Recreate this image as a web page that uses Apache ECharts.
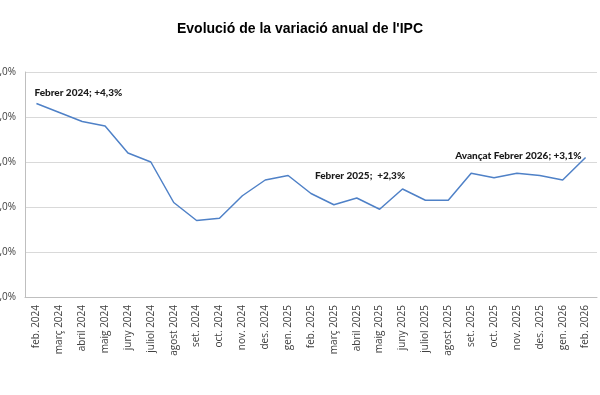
<!DOCTYPE html>
<html><head><meta charset="utf-8">
<script src="https://cdn.jsdelivr.net/npm/echarts@6/dist/echarts.min.js"></script>
<style>html,body{margin:0;padding:0;background:#fff}#c{width:600px;height:395px}</style>
</head><body><div id="c"></div>
<script>
const categories = ["feb. 2024","març 2024","abril 2024","maig 2024","juny 2024","juliol 2024","agost 2024","set. 2024","oct. 2024","nov. 2024","des. 2024","gen. 2025","feb. 2025","març 2025","abril 2025","maig 2025","juny 2025","juliol 2025","agost 2025","set. 2025","oct. 2025","nov. 2025","des. 2025","gen. 2026","feb. 2026"];
const ipcValues = [4.3,4.1,3.9,3.8,3.2,3.0,2.1,1.7,1.75,2.25,2.6,2.7,2.3,2.05,2.2,1.95,2.4,2.15,2.15,2.75,2.65,2.75,2.7,2.6,3.1];
const annotationIndex = [0, 12, 24];
const annotationText = ["Febrer 2024; +4,3%", "Febrer 2025;  +2,3%", "Avançat Febrer 2026; +3,1%"];

const labelStyles = [
  {position:'top', align:'left', offset:[-2,-1]},
  {position:'top', align:'left', offset:[4,-8]},
  {position:'top', align:'right', offset:[-4,8]}
];
const seriesData = ipcValues.map((v,i)=>{
  const k = annotationIndex.indexOf(i);
  if (k < 0) return v;
  return {value:v, label:Object.assign({show:true, formatter:annotationText[k], fontFamily:'Lato', fontWeight:900, fontSize:10, color:'#1a1a1a', distance:4}, labelStyles[k])};
});

const chart = echarts.init(document.getElementById('c'));
chart.setOption({
  animation:false,
  title:{text:"Evolució de la variació anual de l'IPC", left:'center', top:17,
    textStyle:{fontFamily:'Liberation Sans', fontWeight:'bold', fontSize:14, color:'#000'}},
  grid:{left:25, right:3, top:72, bottom:98, outerBoundsMode:'none', containLabel:false},
  xAxis:{type:'category', data:categories, boundaryGap:true,
    axisLine:{lineStyle:{color:'#bfbfbf'}}, axisTick:{show:false},
    axisLabel:{rotate:90, interval:0, fontFamily:'Open Sans', fontSize:10, color:'#404040', margin:8}},
  yAxis:{type:'value', min:0, max:5, interval:1,
    axisLine:{show:true, lineStyle:{color:'#bfbfbf'}}, axisTick:{show:false},
    splitLine:{lineStyle:{color:'#d9d9d9'}},
    axisLabel:{fontFamily:'Open Sans', fontSize:10, color:'#404040', margin:9,
      formatter:v=>v.toFixed(1).replace('.',',')+'%'}},
  series:[{type:'line', data:seriesData, symbol:'circle', symbolSize:1, showSymbol:true,
    itemStyle:{color:'rgba(0,0,0,0)'},
    lineStyle:{color:'#4f81c7', width:1.5}, label:{show:false}}]
});
</script></body></html>
